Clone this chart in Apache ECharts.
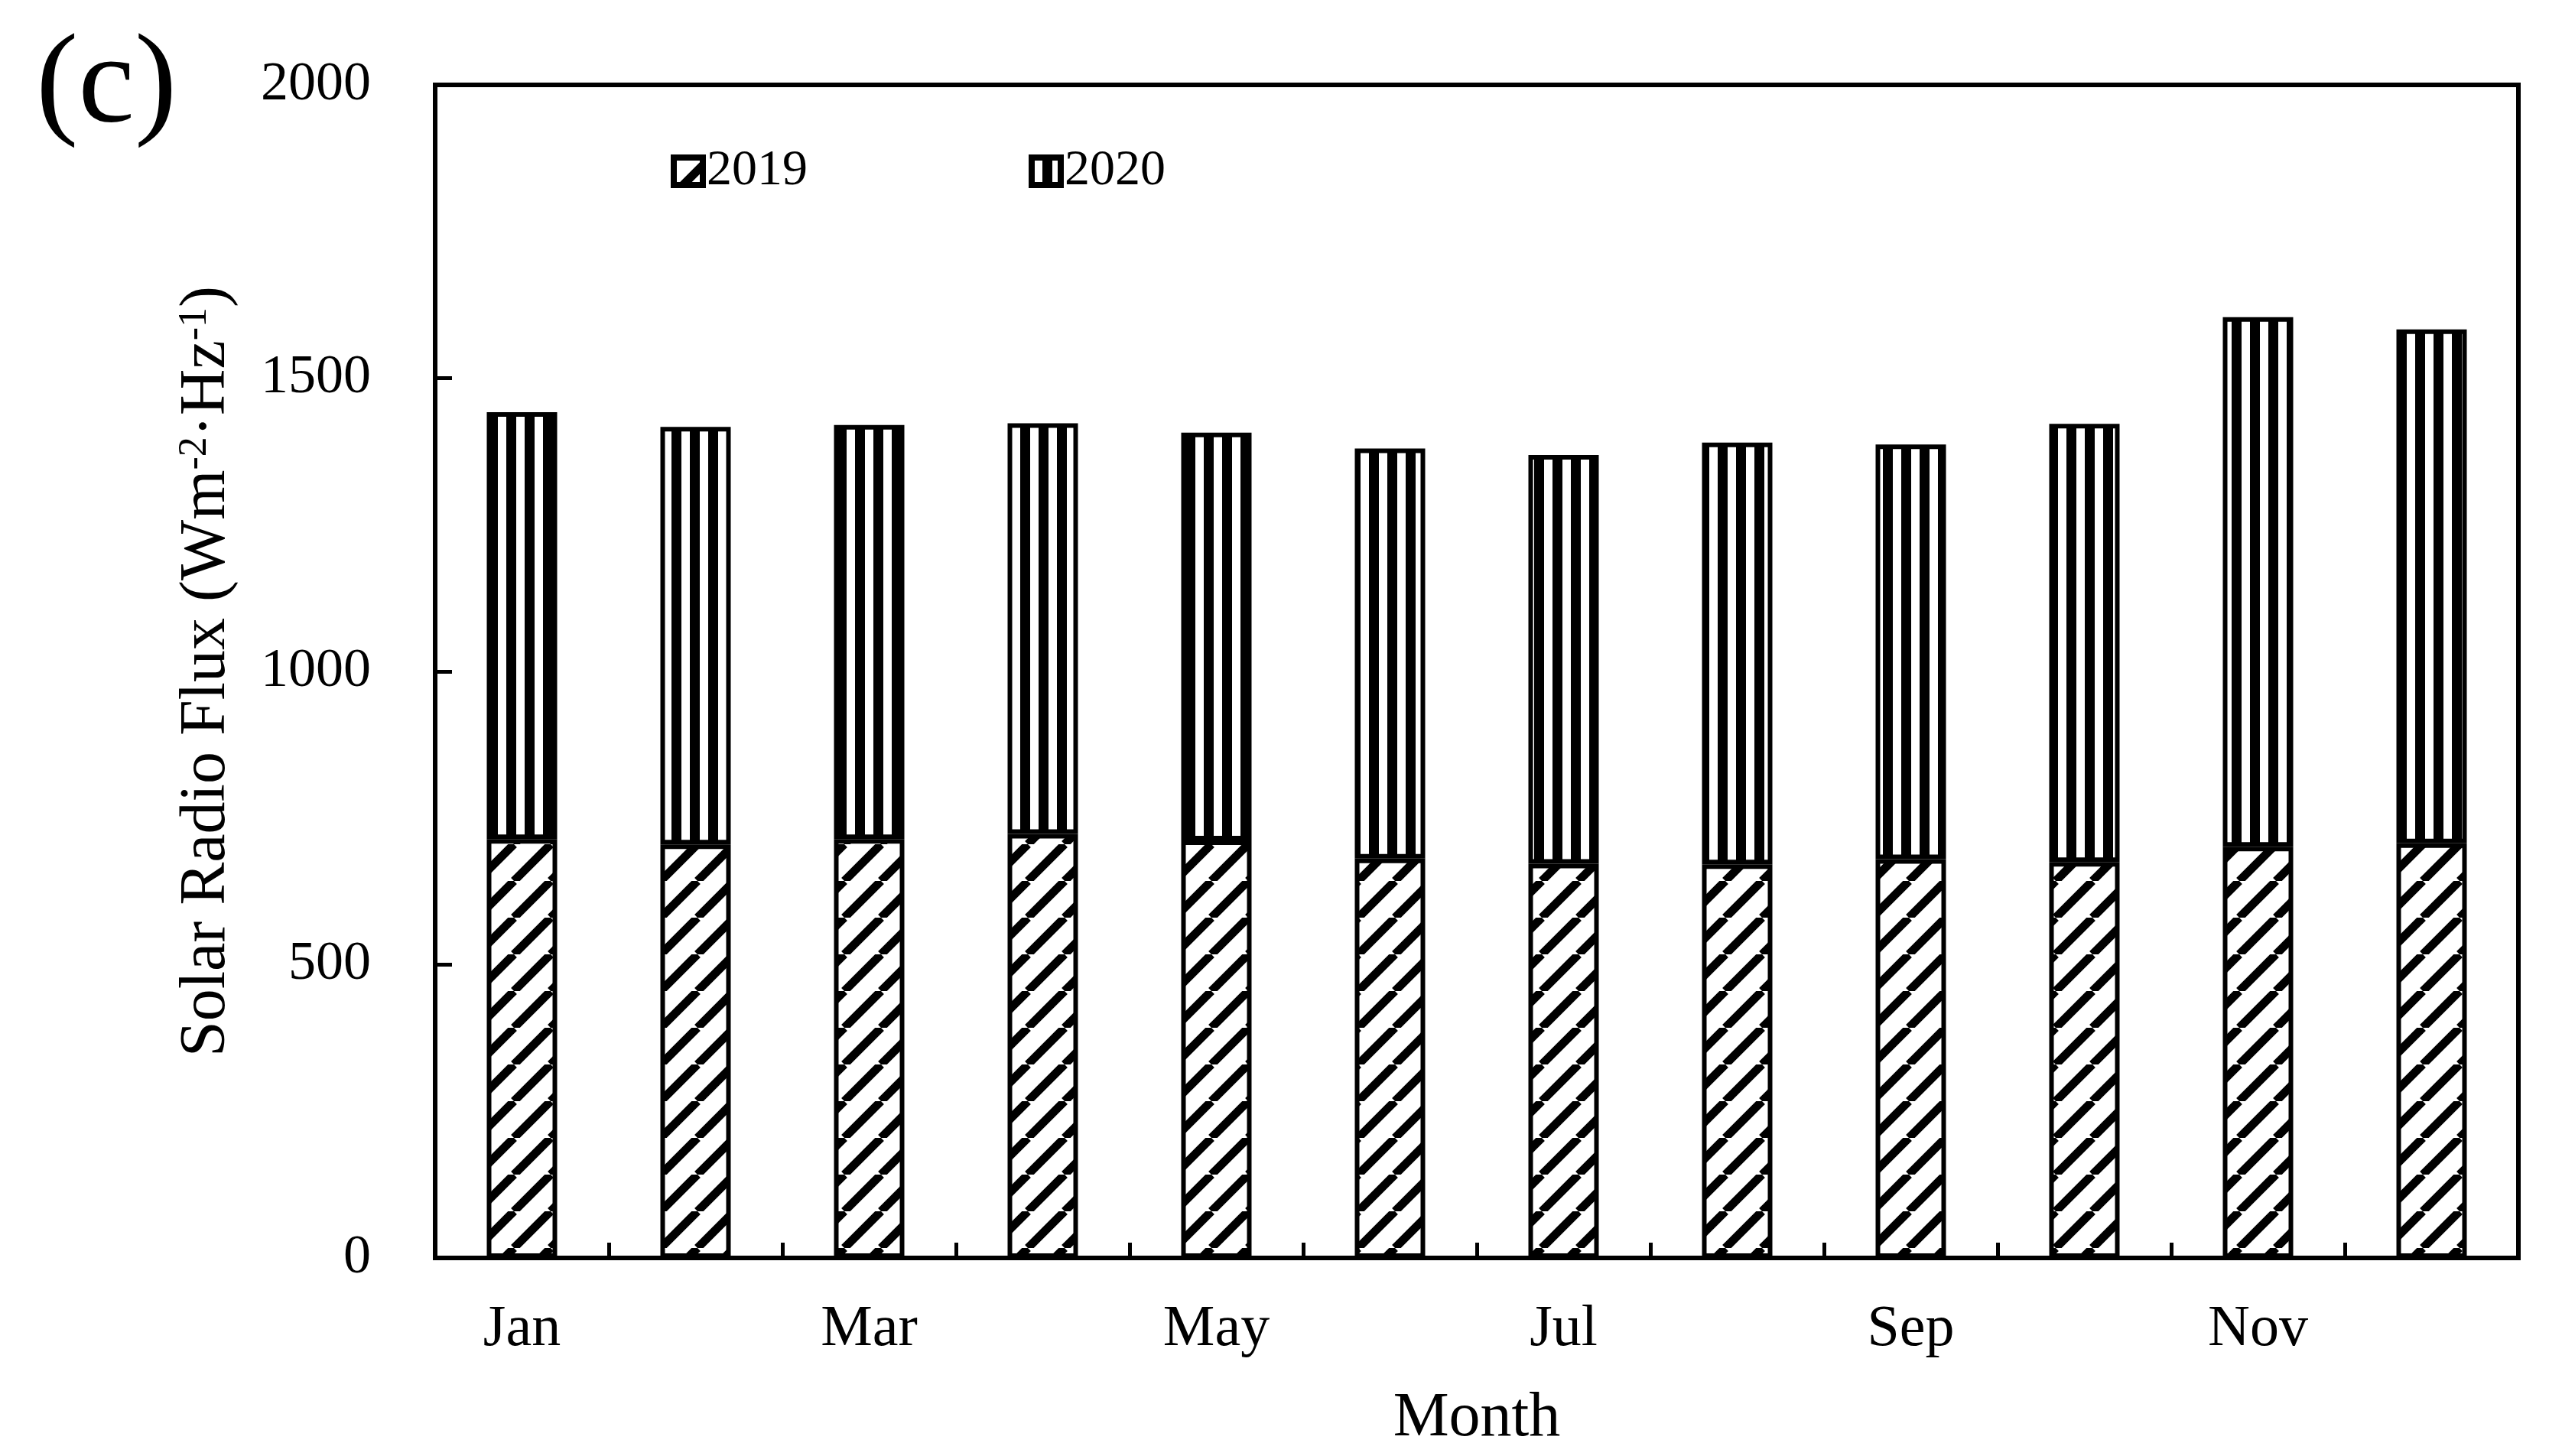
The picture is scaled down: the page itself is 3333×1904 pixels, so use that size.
<!DOCTYPE html>
<html>
<head>
<meta charset="utf-8">
<script src="https://cdn.jsdelivr.net/npm/echarts@6/dist/echarts.min.js"></script>
<style>
  html, body { margin: 0; padding: 0; background: #fff; }
  #chart { width: 3333px; height: 1904px; }
</style>
</head>
<body>
<div id="chart"></div>
<script>
// ---- Data ----
const months = ['Jan', 'Feb', 'Mar', 'Apr', 'May', 'Jun', 'Jul', 'Aug', 'Sep', 'Oct', 'Nov', 'Dec'];
const flux2019 = [714, 705, 714, 723, 712, 681, 672, 671, 680, 675, 701, 707];
const flux2020 = [728, 712, 706, 700, 695, 699, 697, 719, 707, 747, 903, 876];
const seriesNames = ['2019', '2020'];
const yMin = 0, yMax = 2000, yStep = 500;

const FONT = '"Liberation Serif", "Times New Roman", serif';

// ---- Fill patterns ----
function stripePattern() {
  const c = document.createElement('canvas');
  c.width = 24; c.height = 24;
  const g = c.getContext('2d');
  g.fillStyle = '#fff'; g.fillRect(0, 0, 24, 24);
  g.fillStyle = '#000';
  g.fillRect(14, 0, 10, 24);
  g.fillRect(0, 0, 3, 24);
  return c;
}
function hatchPattern() {
  const P = 48;
  const c = document.createElement('canvas');
  c.width = P; c.height = P;
  const g = c.getContext('2d');
  g.fillStyle = '#fff'; g.fillRect(0, 0, P, P);
  g.strokeStyle = '#000';
  g.lineWidth = 11;
  g.beginPath();
  [-1, 0, 1].forEach(k => {
    g.moveTo(k * P, P);
    g.lineTo(k * P + P, 0);
  });
  g.stroke();
  return c;
}

const chart = echarts.init(document.getElementById('chart'), null, { renderer: 'canvas' });

const option = {
  backgroundColor: '#fff',
  animation: false,
  textStyle: { fontFamily: FONT, color: '#000' },
  title: {
    text: '(c)',
    left: 42, top: 26,
    textStyle: { fontFamily: FONT, fontSize: 166, fontWeight: 'normal', color: '#000' }
  },
  grid: {
    left: 569, right: 40, top: 111, bottom: 259,
    show: true, borderColor: '#000', borderWidth: 6, backgroundColor: 'transparent'
  },
  legend: {
    left: 872, top: 186,
    icon: 'rect',
    itemWidth: 38, itemHeight: 36,
    itemGap: 289,
    data: seriesNames,
    itemStyle: { borderColor: '#000', borderWidth: 8 },
    textStyle: { fontFamily: FONT, fontSize: 66, color: '#000' }
  },
  xAxis: {
    type: 'category',
    data: months,
    boundaryGap: true,
    axisLine: { show: true, lineStyle: { color: '#000', width: 6 } },
    axisTick: { show: true, inside: true, length: 20, interval: 0, lineStyle: { color: '#000', width: 5 } },
    axisLabel: { interval: 1, margin: 56, fontFamily: FONT, fontSize: 76, color: '#000' },
    splitLine: { show: false },
    name: 'Month',
    nameLocation: 'middle',
    nameGap: 169,
    nameTextStyle: { fontFamily: FONT, fontSize: 82, color: '#000' }
  },
  yAxis: {
    type: 'value',
    min: yMin, max: yMax, interval: yStep,
    axisLine: { show: true, lineStyle: { color: '#000', width: 6 } },
    axisTick: { show: true, inside: true, length: 22, lineStyle: { color: '#000', width: 5 } },
    axisLabel: { margin: 84, fontFamily: FONT, fontSize: 72, color: '#000', formatter: v => String(v) },
    splitLine: { show: false },
    name: '{t|Solar Radio Flux (Wm}{s|-2}{t|·Hz}{s|-1}{t|)}',
    nameLocation: 'middle',
    nameRotate: 90,
    nameGap: 256,
    nameTextStyle: {
      fontFamily: FONT, fontSize: 84, color: '#000',
      rich: {
        t: { fontFamily: FONT, fontSize: 84, color: '#000' },
        s: { fontFamily: FONT, fontSize: 52, color: '#000', verticalAlign: 'top' }
      }
    }
  },
  series: [
    {
      name: seriesNames[0],
      type: 'bar',
      stack: 'total',
      barWidth: 92,
      data: flux2019,
      itemStyle: { color: { image: hatchPattern(), repeat: 'repeat' }, borderColor: '#000', borderWidth: 6 }
    },
    {
      name: seriesNames[1],
      type: 'bar',
      stack: 'total',
      barWidth: 92,
      data: flux2020,
      itemStyle: { color: { image: stripePattern(), repeat: 'repeat' }, borderColor: '#000', borderWidth: 6 }
    }
  ]
};

chart.setOption(option);
</script>
</body>
</html>
